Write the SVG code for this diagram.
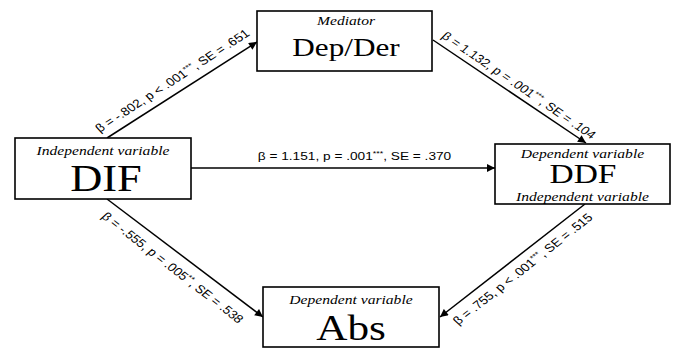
<svg xmlns="http://www.w3.org/2000/svg" width="678" height="350" viewBox="0 0 678 350">
<defs>
<style>
.box{fill:#fff;stroke:#000;stroke-width:1.6}
.sub{font-family:"Liberation Serif","Times New Roman",serif;font-style:italic;font-size:13px;text-anchor:middle;fill:#000}
.big{font-family:"Liberation Serif","Times New Roman",serif;text-anchor:middle;fill:#000}
.lab{font-family:"Liberation Sans",Arial,sans-serif;font-size:11.5px;text-anchor:middle;fill:#000}
.sup{font-size:7.5px}
.edge{stroke:#000;stroke-width:1.5;fill:none;marker-end:url(#ah)}
</style>
<marker id="ah" viewBox="0 0 10 10" refX="10" refY="5" markerWidth="9" markerHeight="8" markerUnits="userSpaceOnUse" orient="auto">
<path d="M0,0 L10,5 L0,10 z" fill="#000"/>
</marker>
</defs>
<g id="connectors">
<line class="edge" x1="107" y1="138" x2="257" y2="42"/>
<line class="edge" x1="433" y1="40" x2="586" y2="143"/>
<line class="edge" x1="191" y1="168" x2="495" y2="168"/>
<line class="edge" x1="107" y1="199" x2="263" y2="317"/>
<line class="edge" x1="585" y1="204" x2="440" y2="317"/>
<g transform="translate(178,87) scale(1.19,1) rotate(-37.7)"><text class="lab" x="0" y="-4">β = -.802, p &lt; .001<tspan class="sup" dy="-4">***</tspan><tspan dy="4">, SE = .651</tspan></text></g>
<g transform="translate(513,91.5) scale(1.19,1) rotate(39)"><text class="lab" x="0" y="-4">β = 1.132, p = .001<tspan class="sup" dy="-4">***</tspan><tspan dy="4">, SE = .104</tspan></text></g>
<g transform="translate(354.5,160) scale(1.19,1)"><text class="lab" x="0" y="0">β = 1.151, p = .001<tspan class="sup" dy="-4">***</tspan><tspan dy="4">, SE = .370</tspan></text></g>
<g transform="translate(180,261) scale(1.19,1) rotate(42.7)"><text class="lab" x="0" y="13">β = -.555, p = .005<tspan class="sup" dy="-4">**</tspan><tspan dy="4">, SE = .538</tspan></text></g>
<g transform="translate(517,264) scale(1.19,1) rotate(-43.3)"><text class="lab" x="0" y="11">β = .755, p &lt; .001<tspan class="sup" dy="-4">***</tspan><tspan dy="4">, SE = .515</tspan></text></g>
</g>
<g id="node-dif">
<rect class="box" x="15" y="138" width="176" height="61"/>
<text class="sub" transform="translate(103,155) scale(1.2,1)">Independent variable</text>
<text class="big" font-size="37" transform="translate(106,191) scale(1.2,1)">DIF</text>
</g>
<g id="node-mediator">
<rect class="box" x="257" y="11" width="175" height="60"/>
<text class="sub" transform="translate(346,25) scale(1.2,1)">Mediator</text>
<text class="big" font-size="26" transform="translate(346,56) scale(1.2,1)">Dep/Der</text>
</g>
<g id="node-ddf">
<rect class="box" x="495" y="144" width="175" height="60"/>
<text class="sub" transform="translate(582.5,158) scale(1.2,1)">Dependent variable</text>
<text class="big" font-size="27" transform="translate(583,183) scale(1.24,1)">DDF</text>
<text class="sub" transform="translate(582.5,201) scale(1.2,1)">Independent variable</text>
</g>
<g id="node-abs">
<rect class="box" x="263" y="287" width="176" height="60"/>
<text class="sub" transform="translate(351,304) scale(1.2,1)">Dependent variable</text>
<text class="big" font-size="36" transform="translate(351,340) scale(1.2,1)">Abs</text>
</g>
</svg>
